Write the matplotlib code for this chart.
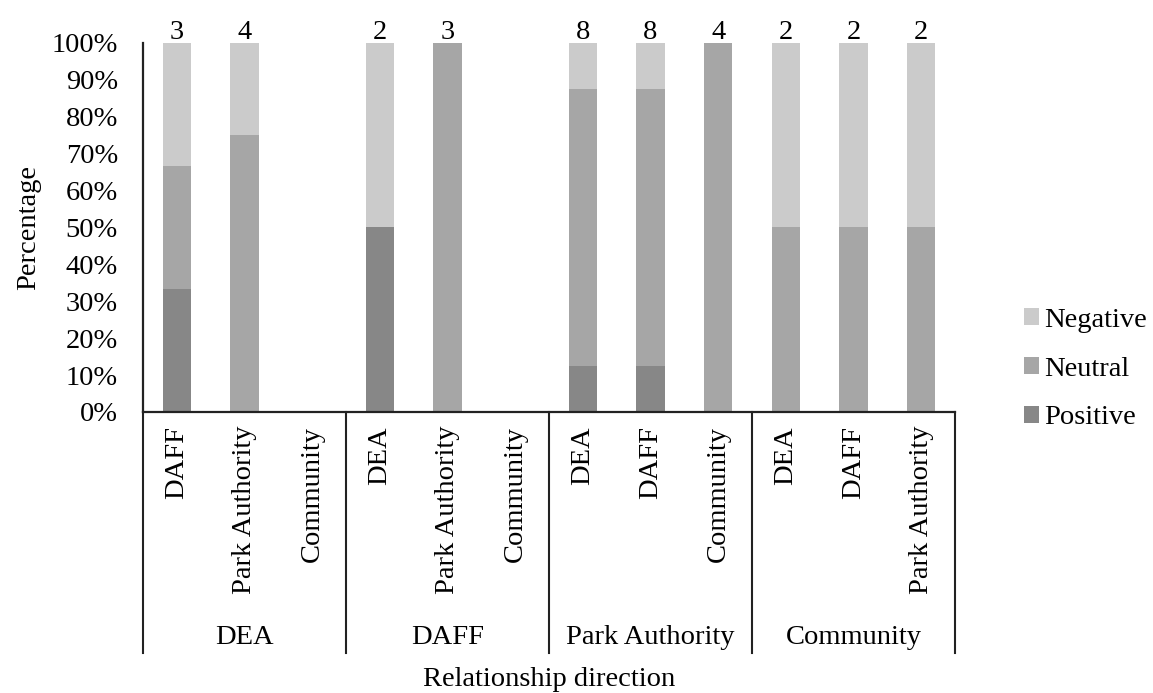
import matplotlib
matplotlib.use('Agg')
import matplotlib.pyplot as plt
import matplotlib.transforms as mtransforms
from matplotlib.ticker import PercentFormatter
import numpy as np

plt.rcParams['font.family'] = ['Liberation Serif', 'DejaVu Serif']

# source actor (outer level) and target actor (inner level)
groups = ['DEA', 'DAFF', 'Park Authority', 'Community']
targets = [['DAFF', 'Park Authority', 'Community'],
           ['DEA', 'Park Authority', 'Community'],
           ['DEA', 'DAFF', 'Community'],
           ['DEA', 'DAFF', 'Park Authority']]

# number of relationships of each kind, per bar
positive = [1, 0, 0, 1, 0, 0, 1, 1, 0, 0, 0, 0]
neutral = [1, 3, 0, 0, 3, 0, 6, 6, 4, 1, 1, 1]
negative = [1, 1, 0, 1, 0, 0, 1, 1, 0, 1, 1, 1]

colors = {'Positive': '#878787', 'Neutral': '#a6a6a6', 'Negative': '#cbcbcb'}

pos = np.array(positive, dtype=float)
neu = np.array(neutral, dtype=float)
neg = np.array(negative, dtype=float)
total = pos + neu + neg
share = np.where(total > 0, 1.0 / np.maximum(total, 1), 0.0)

x = np.arange(len(total))
width = 0.42
fs = 20.5

fig = plt.figure(figsize=(11.53, 6.93), dpi=100)
ax = fig.add_axes([0.124, 0.4055, 0.7043, 0.5325])

ax.bar(x, pos * share, width, color=colors['Positive'], label='Positive')
ax.bar(x, neu * share, width, bottom=pos * share, color=colors['Neutral'], label='Neutral')
ax.bar(x, neg * share, width, bottom=(pos + neu) * share, color=colors['Negative'], label='Negative')

# sample size above each bar
for xi, n in zip(x, total):
    if n > 0:
        ax.annotate('%d' % n, (xi, 1.0), xytext=(0, 2.5), textcoords='offset points',
                    ha='center', va='baseline', fontsize=fs, annotation_clip=False)

ax.set_xlim(-0.5, len(total) - 0.5)
ax.set_ylim(0, 1)
ax.set_yticks(np.linspace(0, 1, 11))
ax.yaxis.set_major_formatter(PercentFormatter(1.0, decimals=0))
ax.tick_params(axis='y', length=0, pad=18, labelsize=fs)

inner = [t for grp in targets for t in grp]
ax.set_xticks(x)
ax.set_xticklabels(inner, rotation=90, va='top', ha='center')
ax.tick_params(axis='x', length=0, pad=10, labelsize=fs)

for side in ['top', 'right']:
    ax.spines[side].set_visible(False)
for side in ['left', 'bottom']:
    ax.spines[side].set_linewidth(1.6)
    ax.spines[side].set_color('#222222')

ax.set_ylabel('Percentage', fontsize=fs)
ax.yaxis.set_label_coords(-0.126, 0.5)

# multi-level category axis: dividers and outer labels
trans = mtransforms.blended_transform_factory(ax.transData, ax.transAxes)
for b in np.arange(-0.5, len(total), 3):
    ax.plot([b, b], [0, -0.653], color='#222222', lw=1.5, transform=trans, clip_on=False)
for i, g in enumerate(groups):
    ax.text(3 * i + 1, -0.61, g, ha='center', va='center', fontsize=fs, transform=trans)

ax.text(0.5, -0.725, 'Relationship direction', ha='center', va='center',
        fontsize=fs, transform=ax.transAxes)

handles, labels = ax.get_legend_handles_labels()
leg = fig.legend(handles[::-1], labels[::-1], loc='center left',
                 bbox_to_anchor=(0.878, 0.4675), frameon=False, fontsize=fs,
                 handlelength=0.55, handleheight=0.55, handletextpad=0.15,
                 labelspacing=0.83, borderaxespad=0)

fig.savefig('out.png', dpi=100)
